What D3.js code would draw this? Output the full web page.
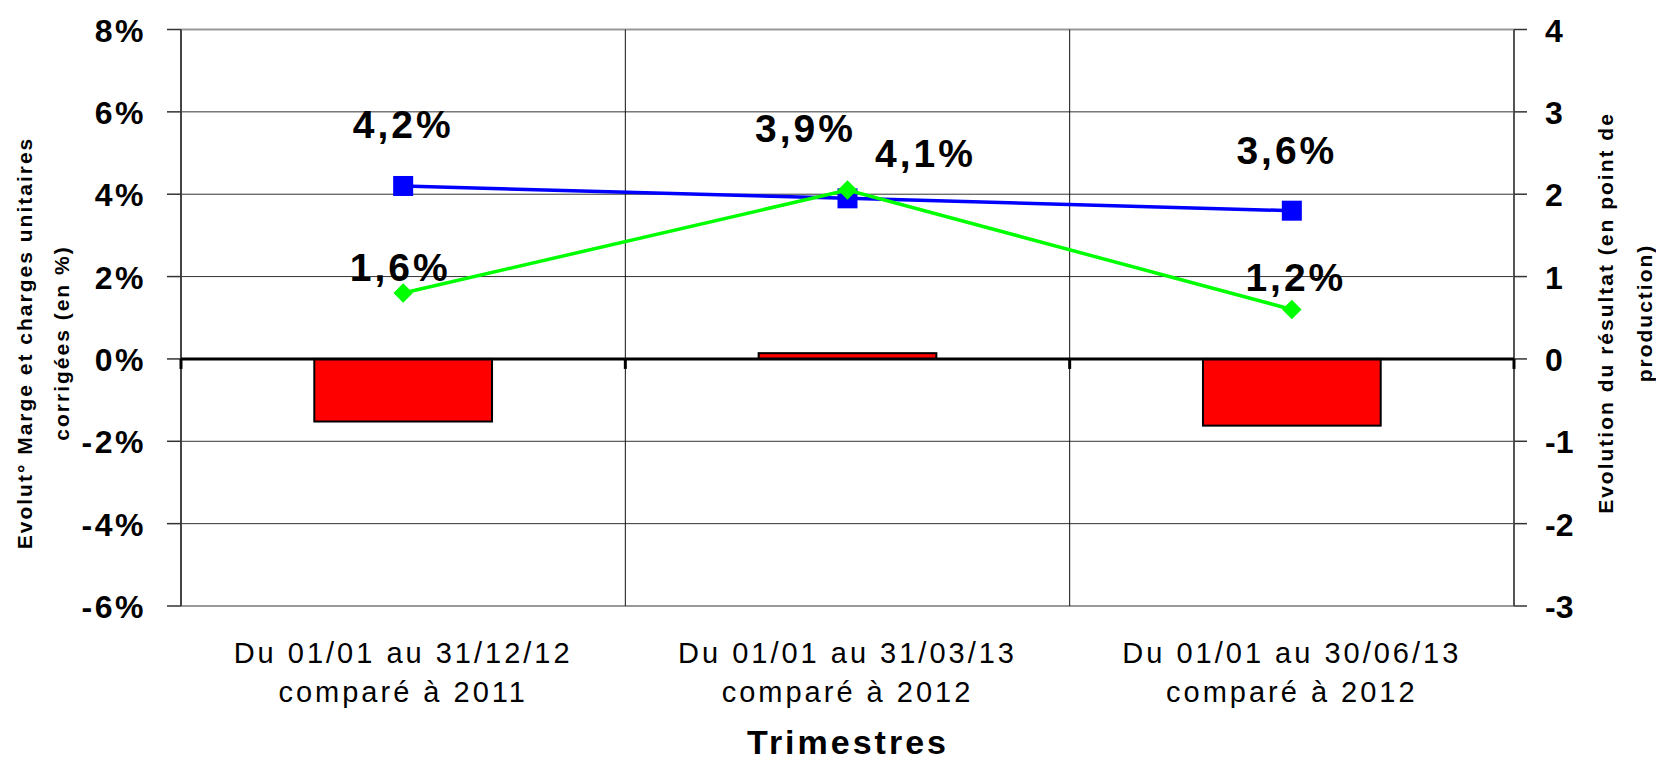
<!DOCTYPE html>
<html>
<head>
<meta charset="utf-8">
<script src="https://cdn.jsdelivr.net/npm/d3@7/dist/d3.min.js"></script>
<style>
  html, body { margin: 0; padding: 0; background: #fff; }
  svg { display: block; font-family: "Liberation Sans", Arial, sans-serif; }
</style>
</head>
<body>
<svg id="chart"></svg>
<script>
//Data
const categories = [
  ["Du 01/01 au 31/12/12", "comparé à 2011"],
  ["Du 01/01 au 31/03/13", "comparé à 2012"],
  ["Du 01/01 au 30/06/13", "comparé à 2012"]
];
const resultat = [-0.76, 0.07, -0.81];   //bars, right axis (points)
const margeValues = [4.2, 3.9, 3.6];     //blue line, left axis (%)
const chargesValues = [1.6, 4.1, 1.2];   //green line, left axis (%)
const leftTicks = [-6, -4, -2, 0, 2, 4, 6, 8];
const rightTicks = [-3, -2, -1, 0, 1, 2, 3, 4];

//Label placement (hand-moved in the original), relative to the point
const margeLabelShift = [[0, -48], [-42, -56], [-5, -47]];
const chargesLabelShift = [[-3, -12], [78, -23], [4, -19]];

const W = 1656, H = 763;
const plot = { left: 181, right: 1514, top: 29.5, bottom: 606 };

const svg = d3.select("#chart").attr("width", W).attr("height", H);

const x = d3.scaleBand()
  .domain(d3.range(categories.length))
  .range([plot.left, plot.right])
  .paddingInner(0.6)
  .paddingOuter(0.3);
const step = x.step();
const cx = i => x(i) + x.bandwidth() / 2;

const yLeft = d3.scaleLinear().domain([-6, 8]).range([plot.bottom, plot.top]);
const yRight = d3.scaleLinear().domain([-3, 4]).range([plot.bottom, plot.top]);

//Horizontal gridlines
svg.append("g")
  .selectAll("line")
  .data(leftTicks)
  .join("line")
  .attr("x1", plot.left).attr("x2", plot.right)
  .attr("y1", d => yLeft(d)).attr("y2", d => yLeft(d))
  .attr("stroke", d => (d === 8 || d === -6) ? "#999" : "#333")
  .attr("stroke-width", d => (d === 8 || d === -6) ? 2 : 1);

//Vertical separators between categories
svg.append("g")
  .selectAll("line")
  .data(d3.range(1, categories.length))
  .join("line")
  .attr("x1", i => plot.left + step * i).attr("x2", i => plot.left + step * i)
  .attr("y1", plot.top).attr("y2", plot.bottom)
  .attr("stroke", "#111")
  .attr("stroke-width", 1);

//Bars
svg.append("g")
  .selectAll("rect")
  .data(resultat)
  .join("rect")
  .attr("x", (d, i) => x(i))
  .attr("width", x.bandwidth())
  .attr("y", d => Math.min(yRight(d), yRight(0)))
  .attr("height", d => Math.abs(yRight(d) - yRight(0)))
  .attr("fill", "#ff0000")
  .attr("stroke", "#000")
  .attr("stroke-width", 2);

//Left axis
let gl = svg.append("g");
gl.append("line")
  .attr("x1", plot.left).attr("x2", plot.left)
  .attr("y1", plot.top).attr("y2", plot.bottom)
  .attr("stroke", "#444").attr("stroke-width", 2);
gl.selectAll("line.tick")
  .data(leftTicks)
  .join("line")
  .classed("tick", true)
  .attr("x1", plot.left - 14).attr("x2", plot.left)
  .attr("y1", d => yLeft(d)).attr("y2", d => yLeft(d))
  .attr("stroke", "#333").attr("stroke-width", 1.5);
gl.selectAll("text")
  .data(leftTicks)
  .join("text")
  .attr("x", 146)
  .attr("y", d => yLeft(d) + 12)
  .attr("text-anchor", "end")
  .attr("font-size", 32)
  .attr("font-weight", "bold")
  .attr("letter-spacing", 2.5)
  .text(d => d + "%");

//Right axis
let gr = svg.append("g");
gr.append("line")
  .attr("x1", plot.right).attr("x2", plot.right)
  .attr("y1", plot.top).attr("y2", plot.bottom)
  .attr("stroke", "#555").attr("stroke-width", 2);
gr.selectAll("line.tick")
  .data(rightTicks)
  .join("line")
  .classed("tick", true)
  .attr("x1", plot.right).attr("x2", plot.right + 13)
  .attr("y1", d => yRight(d)).attr("y2", d => yRight(d))
  .attr("stroke", "#333").attr("stroke-width", 1.5);
gr.selectAll("text")
  .data(rightTicks)
  .join("text")
  .attr("x", 1545)
  .attr("y", d => yRight(d) + 12)
  .attr("font-size", 32)
  .attr("font-weight", "bold")
  .text(d => d);

//Zero line with category tick marks
svg.append("line")
  .attr("x1", plot.left).attr("x2", plot.right)
  .attr("y1", yLeft(0)).attr("y2", yLeft(0))
  .attr("stroke", "#000").attr("stroke-width", 3);
svg.append("g")
  .selectAll("line")
  .data(d3.range(categories.length + 1))
  .join("line")
  .attr("x1", i => plot.left + step * i).attr("x2", i => plot.left + step * i)
  .attr("y1", yLeft(0)).attr("y2", yLeft(0) + 10)
  .attr("stroke", "#000").attr("stroke-width", 3);

//Lines
const line = d3.line().x((d, i) => cx(i)).y(d => yLeft(d));

svg.append("path")
  .datum(margeValues)
  .attr("d", line)
  .attr("fill", "none")
  .attr("stroke", "#0000ff")
  .attr("stroke-width", 3.5);
svg.append("g")
  .selectAll("rect")
  .data(margeValues)
  .join("rect")
  .attr("x", (d, i) => cx(i) - 10)
  .attr("y", d => yLeft(d) - 10)
  .attr("width", 20).attr("height", 20)
  .attr("fill", "#0000ff");

svg.append("path")
  .datum(chargesValues)
  .attr("d", line)
  .attr("fill", "none")
  .attr("stroke", "#00ff00")
  .attr("stroke-width", 3.5);
svg.append("g")
  .selectAll("path")
  .data(chargesValues)
  .join("path")
  .attr("d", d3.symbol(d3.symbolSquare, 190))
  .attr("transform", (d, i) => `translate(${cx(i)}, ${yLeft(d)}) rotate(45)`)
  .attr("fill", "#00ff00");

//Data labels
const fmt = v => v.toFixed(1).replace(".", ",") + "%";
function dataLabels(values, shift) {
  svg.append("g")
    .selectAll("text")
    .data(values)
    .join("text")
    .attr("x", (d, i) => cx(i) + shift[i][0])
    .attr("y", (d, i) => yLeft(d) + shift[i][1])
    .attr("text-anchor", "middle")
    .attr("font-size", 39)
    .attr("font-weight", "bold")
    .attr("letter-spacing", 3)
    .text(fmt);
}
dataLabels(margeValues, margeLabelShift);
dataLabels(chargesValues, chargesLabelShift);

//Category labels
let cat = svg.append("g")
  .selectAll("text")
  .data(categories)
  .join("text")
  .attr("text-anchor", "middle")
  .attr("font-size", 29)
  .attr("letter-spacing", 3);
cat.selectAll("tspan")
  .data((d, i) => d.map(t => ({ t, i })))
  .join("tspan")
  .attr("x", d => cx(d.i))
  .attr("y", (d, j) => 663 + j * 39)
  .text(d => d.t);

//Axis titles
svg.append("text")
  .attr("x", 848).attr("y", 754)
  .attr("text-anchor", "middle")
  .attr("font-size", 34)
  .attr("font-weight", "bold")
  .attr("letter-spacing", 3)
  .text("Trimestres");

function vTitle(lines, cxs, cy) {
  svg.append("g")
    .selectAll("text")
    .data(lines)
    .join("text")
    .attr("transform", (d, i) => `translate(${cxs[i] + 7}, ${cy}) rotate(-90)`)
    .attr("text-anchor", "middle")
    .attr("font-size", 21)
    .attr("font-weight", "bold")
    .attr("letter-spacing", 2)
    .text(d => d);
}
vTitle(["Evolut° Marge et charges unitaires", "corrigées (en %)"], [25, 62], 343);
vTitle(["Evolution du résultat (en point de", "production)"], [1606, 1645], 313);
</script>
</body>
</html>
